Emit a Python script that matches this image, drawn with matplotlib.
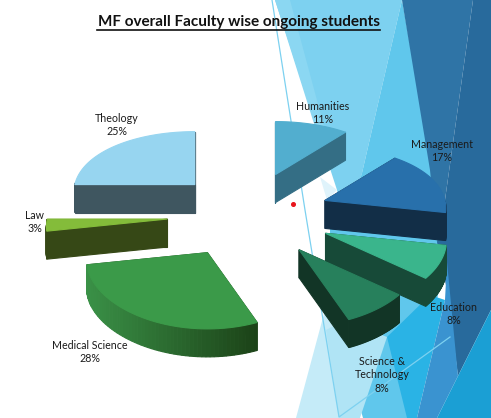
import numpy as np
import matplotlib
matplotlib.use('Agg')
import matplotlib.pyplot as plt
from matplotlib.colors import to_rgb
from matplotlib.patches import Polygon

# chart data, clockwise from 12 o'clock
faculties = ['Humanities', 'Management', 'Education', 'Science &\nTechnology',
             'Medical Science', 'Law', 'Theology']
shares = [11, 17, 8, 8, 28, 3, 25]

# styles
top_colors = ['#52AECF', '#2870AB', '#3AB58C', '#27805C', '#3B9A49', '#84BC3A', '#97D5F0']
side_colors = ['#346E85', '#122E47', '#174A38', '#123526', '#1C4318', '#364816', '#3F5660']
arc_light = [None, None, None, None, '#3A9147', None, None]
label_xy = [(323, 113), (442, 151), (454, 314), (382, 375), (90, 352), (35, 222), (117, 125)]
explode_x = [90, 85, 89, 92, 78, 78, 71]
text_color = '#1a1a1a'

# pie geometry, in pixels
cx, cy = 245, 215
rx, ry = 120, 62.5
ey = 43
depth = 28
persp_x, persp_y = 0.12, 0.18

# slide background shapes
background = [
    ('#7DD1F0', [(275, 0), (402, 0), (362, 173), (345, 240), (337, 190)]),
    ('#8BD7F2', [(275, 0), (290, 0), (325, 130), (316, 130)]),
    ('#DFF3FB', [(320, 177), (337, 190), (327, 200)]),
    ('#60C7EC', [(402, 0), (447, 250), (437, 300), (415, 418), (363, 418), (330, 300), (330, 228), (345, 228), (362, 173)]),
    ('#2F74A6', [(402, 0), (473, 0), (445, 200), (437, 242), (430, 170)]),
    ('#286A9C', [(473, 0), (491, 0), (491, 310), (458, 376), (447, 290), (437, 242), (445, 200)]),
    ('#C5EBF8', [(296, 418), (325, 310), (345, 300), (358, 418)]),
    ('#B0E4F5', [(326, 330), (345, 320), (387, 337), (360, 418), (339, 418)]),
    ('#2AB3E5', [(387, 337), (430, 295), (445, 300), (417, 418), (407, 418)]),
    ('#3A93D0', [(417, 418), (445, 300), (447, 262), (458, 376), (437, 418)]),
    ('#1B9FD4', [(437, 418), (458, 376), (491, 310), (491, 418)]),
]

fig = plt.figure(figsize=(4.91, 4.18), dpi=100)
ax = fig.add_axes([0, 0, 1, 1])
ax.set_xlim(0, 491)
ax.set_ylim(418, 0)
ax.axis('off')

for color, pts in background:
    ax.add_patch(Polygon(pts, closed=True, fc=color, ec='none', zorder=1))
ax.plot([272, 305, 339, 450], [0, 210, 417, 337], color='#7DD1F0', lw=0.9, zorder=2)


def project(ax0, ay0, angle):
    sx = 1 / (1 + persp_x * np.sin(angle))
    sy = 1 / (1 + persp_y * np.sin(angle))
    return ax0 + rx * sx * np.cos(angle), ay0 - ry * sy * np.sin(angle)


fracs = np.array(shares) / sum(shares)
ends = np.pi / 2 - 2 * np.pi * np.cumsum(fracs)
starts = ends + 2 * np.pi * fracs
mids = (starts + ends) / 2

# back slices first so the front ones sit on top
order = np.argsort(-np.sin(mids))
for z, i in enumerate(order):
    ax0 = cx + explode_x[i] * np.cos(mids[i])
    ay0 = cy - ey * np.sin(mids[i])
    theta = np.linspace(starts[i], ends[i], 60)
    px, py = project(ax0, ay0, theta)
    top_x = np.r_[ax0, px]
    top_y = np.r_[ay0, py]
    zb = 10 + 2 * z

    # walls: the two cut faces first, then the part of the outer arc facing us
    n = len(top_x)
    for k in [0, n - 1] + list(range(1, n - 1)):
        j = (k + 1) % n
        if 1 <= k < n - 1 and np.sin(theta[k - 1]) > 0:
            continue
        quad = [(top_x[k], top_y[k]), (top_x[j], top_y[j]),
                (top_x[j], top_y[j] + depth), (top_x[k], top_y[k] + depth)]
        color = side_colors[i]
        if arc_light[i] is not None and 1 <= k < n - 1:
            t = (top_x[k] - px.min()) / (px.max() - px.min())
            color = tuple((1 - t) * np.array(to_rgb(arc_light[i])) + t * np.array(to_rgb(side_colors[i])))
        ax.add_patch(Polygon(quad, closed=True, fc=color, ec=color, lw=0.8, zorder=zb + 0.5))

    ax.add_patch(Polygon(np.c_[top_x, top_y], closed=True, fc=top_colors[i],
                         ec=top_colors[i], lw=0.8, zorder=zb + 1))

for name, share, (x, y) in zip(faculties, shares, label_xy):
    ax.text(x, y, f'{name}\n{share}%', ha='center', va='center', fontsize=7.7,
            family='Lato', color=text_color, linespacing=1.25, zorder=50)

ax.text(239, 22, 'MF overall Faculty wise ongoing students', ha='center', va='center',
        fontsize=11.0, fontweight='bold', family='Lato', color='#111111', zorder=50)
ax.plot([97, 380], [30, 30], color='#111111', lw=1.2, zorder=50)

ax.plot([293], [204], 'o', color='#E8141C', ms=2.6, zorder=50)

fig.savefig('out.png', dpi=100)
